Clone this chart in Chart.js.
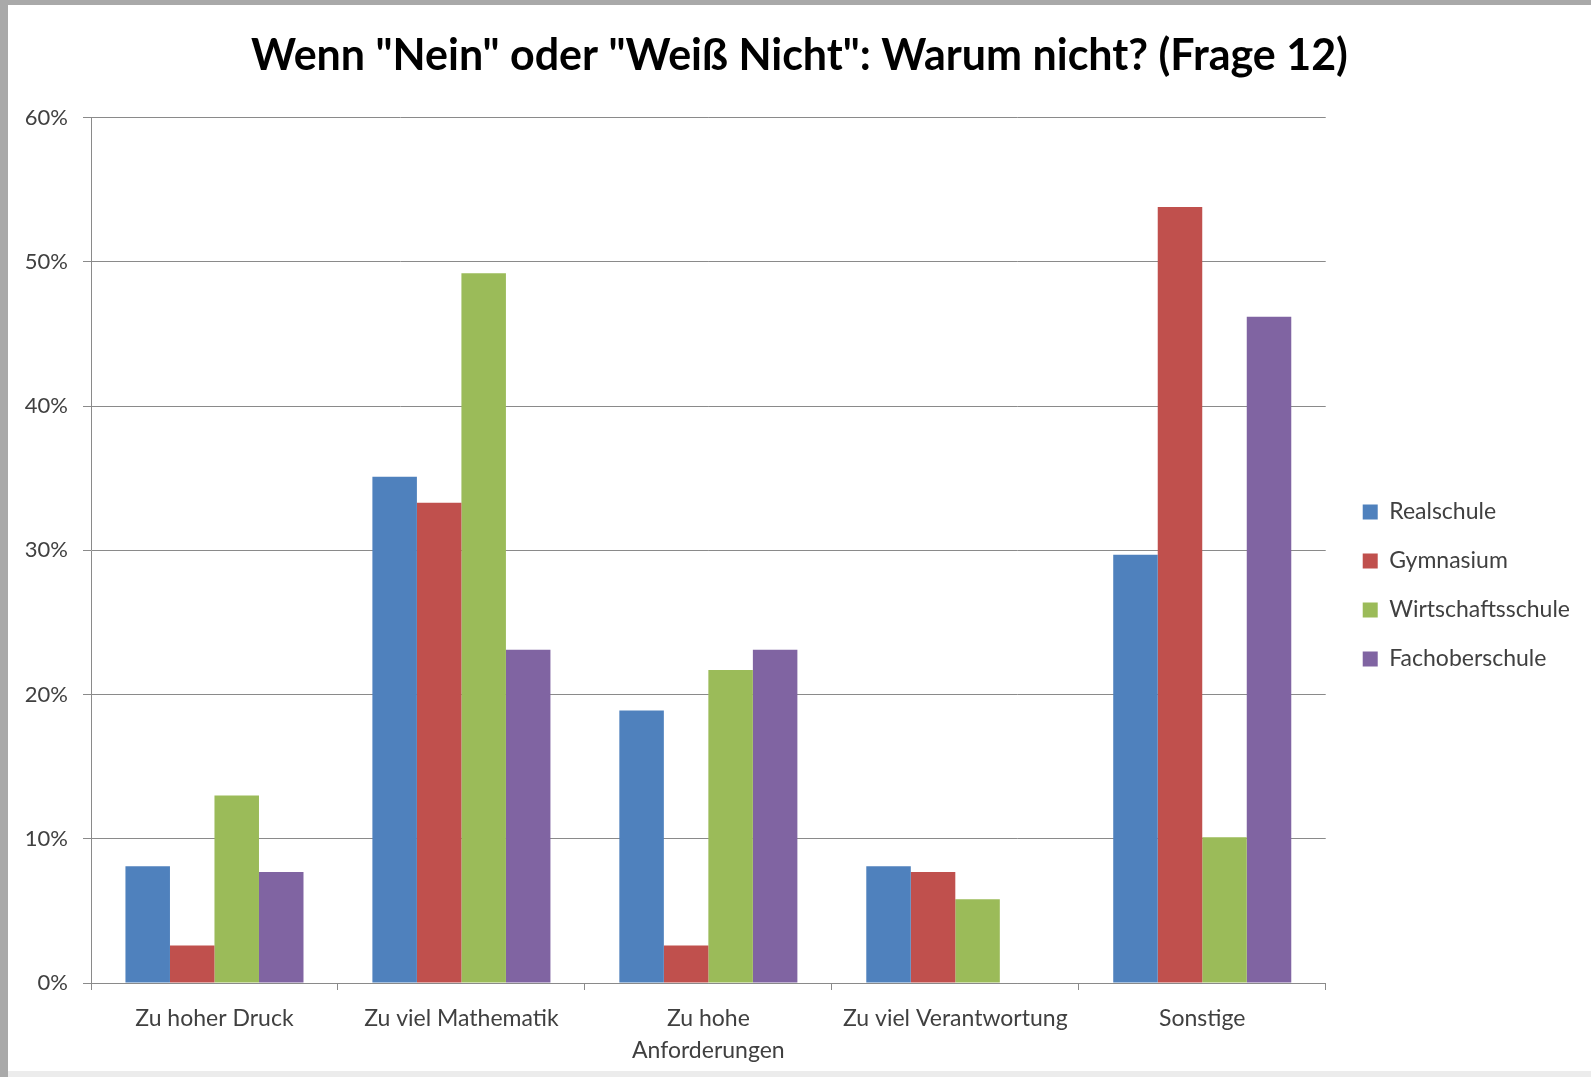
<!DOCTYPE html>
<html>
<head>
<meta charset="utf-8">
<script src="https://cdn.jsdelivr.net/npm/chart.js@4"></script>
<style>
  body { margin: 0; background: #ececec; width: 1591px; height: 1077px; overflow: hidden; position: relative; }
  .edgeTop { position: absolute; left: 0; top: 0; width: 1591px; height: 5px; background: #a9a9a9; }
  .edgeLeft { position: absolute; left: 0; top: 0; width: 8px; height: 1077px; background: #a9a9a9; }
  #myChart { position: absolute; left: 8px; top: 5px; background: #fff; }
</style>
</head>
<body>
<div class="edgeTop"></div>
<div class="edgeLeft"></div>
<canvas id="myChart" width="1583" height="1066"></canvas>
<script>
// Werte aus der Umfrage (Frage 12), in Prozent
const categories = ['Zu hoher Druck', 'Zu viel Mathematik', ['Zu hohe', 'Anforderungen'], 'Zu viel Verantwortung', 'Sonstige'];
const realschule = [8.1, 35.1, 18.9, 8.1, 29.7];
const gymnasium = [2.6, 33.3, 2.6, 7.7, 53.8];
const wirtschaftsschule = [13.0, 49.2, 21.7, 5.8, 10.1];
const fachoberschule = [7.7, 23.1, 23.1, 0, 46.2];
const yTicks = [0, 10, 20, 30, 40, 50, 60];

const seriesNames = ['Realschule', 'Gymnasium', 'Wirtschaftsschule', 'Fachoberschule'];
const seriesColors = ['#4F81BD', '#C0504D', '#9BBB59', '#8064A2'];
const gridColor = '#8a8a8a';
const fontName = 'Lato';

// Legende etwas breiter machen und vom Diagramm abrücken (wie in Excel)
const legendGap = {
  id: 'legendGap',
  beforeLayout(chart) {
    const legend = chart.legend;
    if (!legend || legend._gapPatched) return;
    const fit = legend.fit.bind(legend);
    legend.fit = function () {
      fit();
      this.width += 22;
    };
    legend._gapPatched = true;
  },
  afterLayout(chart) {
    chart.legend.left += 11;
    chart.legend.right += 11;
  },
};

const ctx = document.getElementById('myChart').getContext('2d');

new Chart(ctx, {
  type: 'bar',
  data: {
    labels: categories,
    datasets: [realschule, gymnasium, wirtschaftsschule, fachoberschule].map((values, i) => ({
      label: seriesNames[i],
      data: values,
      backgroundColor: seriesColors[i],
      borderWidth: 0,
      categoryPercentage: 0.721,
      barPercentage: 1,
    })),
  },
  plugins: [legendGap],
  options: {
    responsive: false,
    animation: false,
    layout: { padding: 0 },
    plugins: {
      title: {
        display: true,
        text: 'Wenn "Nein" oder "Weiß Nicht": Warum nicht? (Frage 12)',
        color: '#000',
        font: { family: fontName, size: 43, weight: 'bold', lineHeight: 1.2 },
        padding: { top: 25, bottom: 36 },
      },
      legend: {
        position: 'right',
        title: { display: true, text: ' ', font: { size: 1, lineHeight: 1 }, padding: { top: 0, bottom: 94 } },
        labels: {
          boxWidth: 15,
          boxHeight: 15,
          padding: 26,
          color: '#404040',
          font: { family: fontName, size: 23 },
        },
      },
      tooltip: { enabled: false },
    },
    scales: {
      x: {
        grid: {
          display: true,
          drawOnChartArea: false,
          drawTicks: true,
          tickLength: 7,
          color: gridColor,
          lineWidth: 1,
        },
        border: { display: true, color: gridColor, width: 1 },
        ticks: {
          color: '#404040',
          padding: 13,
          font: { family: fontName, size: 23, lineHeight: 1.39 },
          maxRotation: 0,
          autoSkip: false,
        },
        afterFit: (scale) => { scale.height = 88; },
      },
      y: {
        min: 0,
        max: 60,
        afterBuildTicks: (scale) => { scale.ticks = yTicks.map((v) => ({ value: v })); },
        grid: {
          color: gridColor,
          lineWidth: 1,
          tickLength: 8,
        },
        border: { display: true, color: gridColor, width: 1 },
        ticks: {
          color: '#404040',
          padding: 15,
          font: { family: fontName, size: 22 },
          callback: (v) => v + '%',
        },
        afterFit: (scale) => { scale.width = 83; },
      },
    },
  },
});
</script>
</body>
</html>
